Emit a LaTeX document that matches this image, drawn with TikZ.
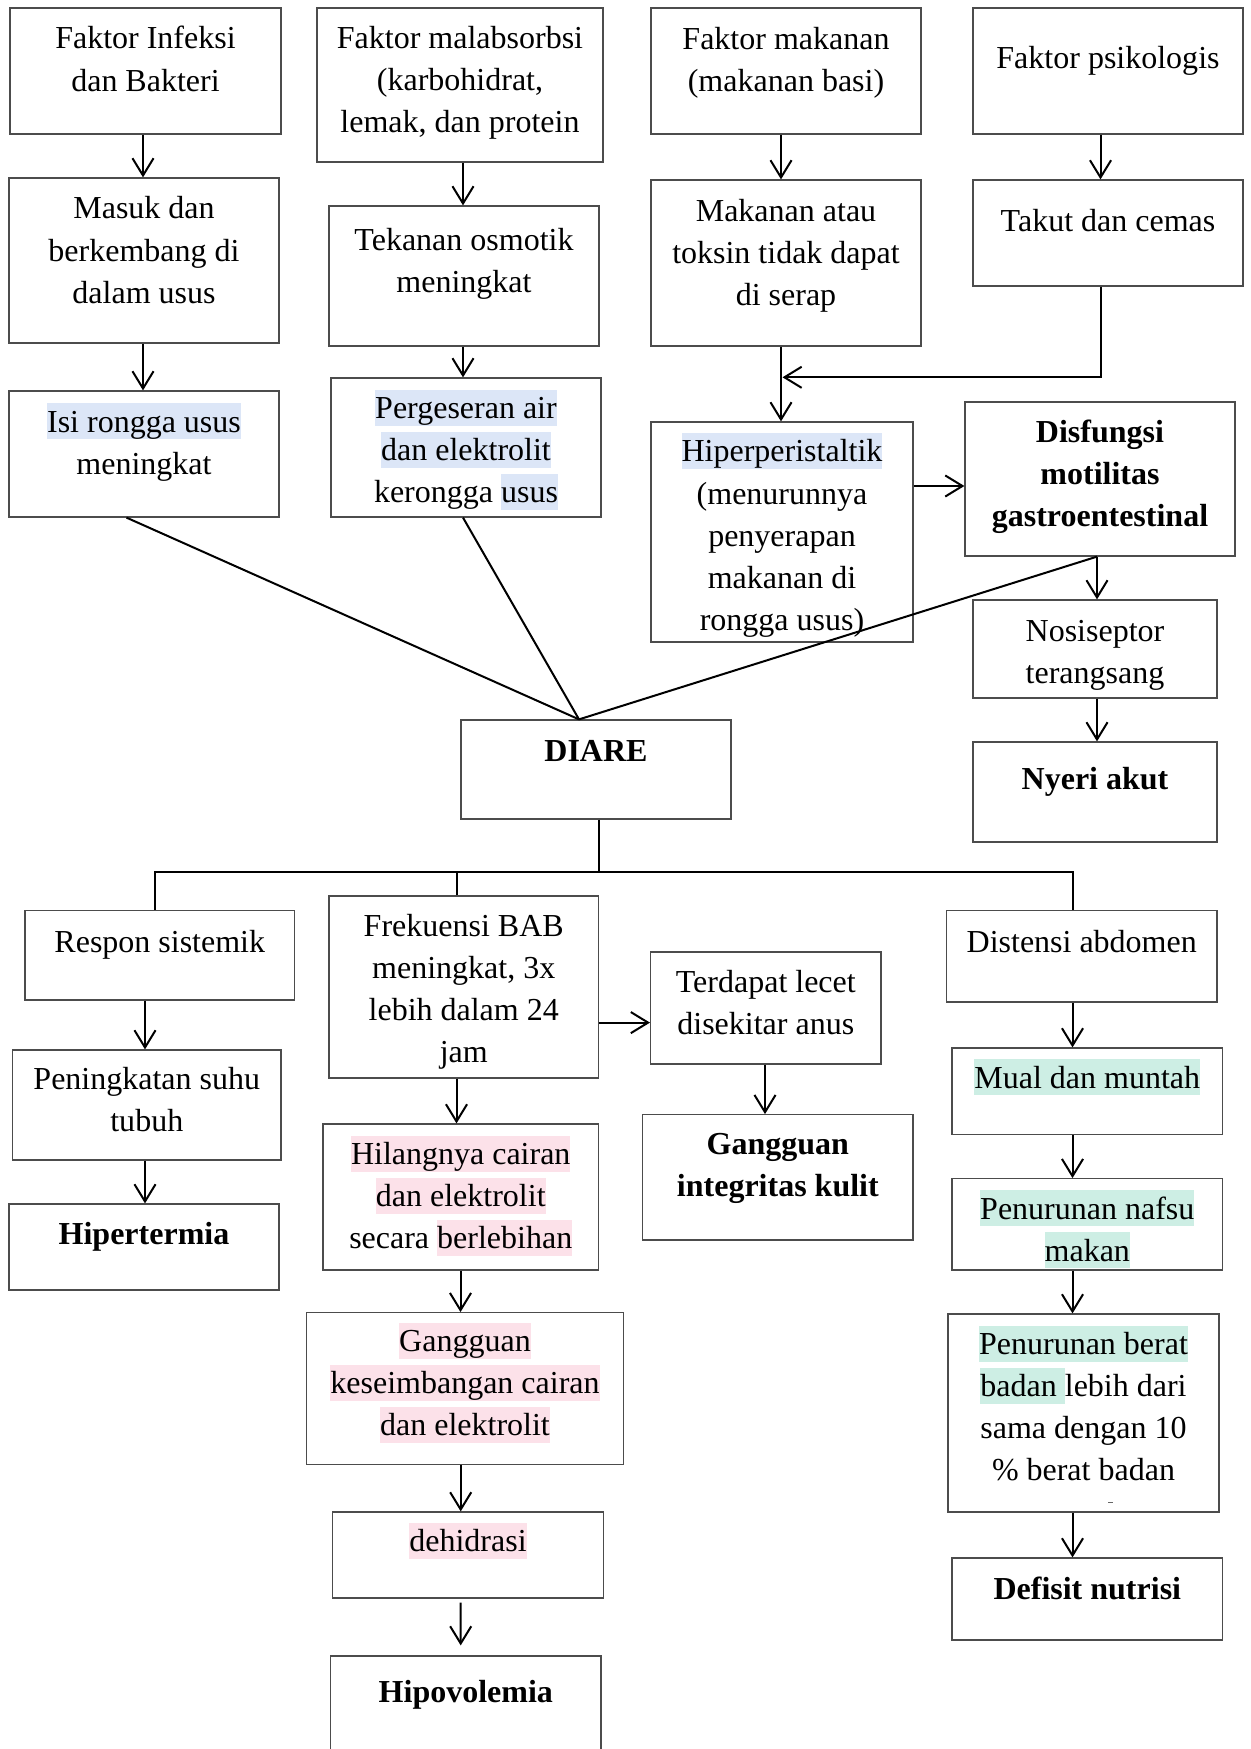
\documentclass[tikz,border=0pt]{standalone}
\usepackage{fontspec}
\setmainfont{Liberation Serif}
\usetikzlibrary{arrows.meta}

\definecolor{hlblue}{HTML}{DCE6F7}
\definecolor{hlpink}{HTML}{FCE1E9}
\definecolor{hlgreen}{HTML}{CDEEE4}

\newlength{\px}
\setlength{\px}{0.01cm}
% box of fixed size, text set from the top: width, height, first baseline, text
\newcommand{\boxtext}[4]{\parbox[c][#2\px][t]{#1\px}{\centering
  \vspace*{\dimexpr #3\px+1.5\px-\ht\strutbox\relax}\strut#4}}
\newcommand{\hlt}[2]{\leavevmode\setbox0\hbox{#2}\rlap{\color{#1}\rule[-7\px]{\wd0}{36\px}}\box0}

\begin{document}
\begin{tikzpicture}[x=0.01cm, y=-0.01cm,
  box/.style={draw=black!70, line width=0.35pt, inner sep=0pt,
    font=\fontsize{9.1}{11.95}\selectfont},
  arr/.style={line width=0.57pt, -{Straight Barb[length=4.9pt, width=6pt]}},
  link/.style={line width=0.57pt}]
  \useasboundingbox (0,0) rectangle (1250,1749);
  \clip (0,0) rectangle (1250,1749);

  % causes
  \node[box] (infeksi) at (145.5,71) {\boxtext{271}{126}{39.5}{Faktor Infeksi\\dan Bakteri}};
  \node[box] (masuk) at (144,260.5) {\boxtext{270}{165}{39.5}{Masuk dan\\berkembang di\\dalam usus}};
  \node[box] (isi) at (144,454) {\boxtext{270}{126}{39.7}{\hlt{hlblue}{Isi rongga usus}\\meningkat}};
  \node[box] (malab) at (460,85) {\boxtext{286}{154}{39}{Faktor malabsorbsi\\(karbohidrat,\\lemak, dan protein}};
  \node[box] (osmotik) at (464,276) {\boxtext{270}{140}{43}{Tekanan osmotik\\meningkat}};
  \node[box] (geser) at (466,447.5) {\boxtext{270}{139}{39}{\hlt{hlblue}{Pergeseran air}\\\hlt{hlblue}{dan elektrolit}\\kerongga \hlt{hlblue}{usus}}};
  \node[box] (makanan) at (786,71) {\boxtext{270}{126}{39.8}{Faktor makanan\\(makanan basi)}};
  \node[box] (psikologis) at (1108,71) {\boxtext{270}{126}{59}{Faktor psikologis}};
  \node[box] (toksin) at (786,263) {\boxtext{270}{166}{39.6}{Makanan atau\\toksin tidak dapat\\di serap}};
  \node[box] (takut) at (1108,233) {\boxtext{270}{106}{50}{Takut dan cemas}};
  \node[box] (hiper) at (782,532) {\boxtext{262}{220}{38.5}{\hlt{hlblue}{Hiperperistaltik}\\(menurunnya\\penyerapan\\makanan di\\rongga usus)}};
  \node[box] (disfungsi) at (1100,479) {\boxtext{270}{154}{39}{\bfseries Disfungsi\\motilitas\\gastroentestinal}};
  \node[box] (nosiseptor) at (1095,649) {\boxtext{244}{98}{40}{Nosiseptor\\terangsang}};
  \node[box] (nyeri) at (1095,792) {\boxtext{244}{100}{46}{\bfseries Nyeri akut}};
  \node[box] (diare) at (596,769.5) {\boxtext{270}{99}{40}{\bfseries DIARE}};

  % effects
  \node[box] (respon) at (159.8,955.25) {\boxtext{269.6}{89.5}{40}{Respon sistemik}};
  \node[box] (suhu) at (146.8,1105) {\boxtext{268.4}{110}{38.4}{Peningkatan suhu\\tubuh}};
  \node[box] (hipertermia) at (144,1247) {\boxtext{270}{86}{38.7}{\bfseries Hipertermia}};
  \node[box] (frekuensi) at (463.75,987) {\boxtext{269.5}{182}{38.6}{Frekuensi BAB\\meningkat, 3x\\lebih dalam 24\\jam}};
  \node[box] (hilang) at (460.75,1197) {\boxtext{275.5}{146}{39}{\hlt{hlpink}{Hilangnya cairan}\\\hlt{hlpink}{dan elektrolit}\\secara \hlt{hlpink}{berlebihan}}};
  \node[box] (seimbang) at (465,1388.5) {\boxtext{316.6}{151.6}{37.6}{\hlt{hlpink}{Gangguan}\\\hlt{hlpink}{keseimbangan cairan}\\\hlt{hlpink}{dan elektrolit}}};
  \node[box] (dehidrasi) at (468,1555) {\boxtext{270.6}{86}{38}{\hlt{hlpink}{dehidrasi}}};
  \node[box] (hipovolemia) at (465.85,1711) {\boxtext{270.3}{110}{45}{\bfseries Hipovolemia}};
  \node[box] (lecet) at (765.8,1008) {\boxtext{230.4}{112}{39}{Terdapat lecet\\disekitar anus}};
  \node[box] (integritas) at (777.85,1177.35) {\boxtext{270.3}{125.3}{38.6}{\bfseries Gangguan\\integritas kulit}};
  \node[box] (distensi) at (1081.75,956.35) {\boxtext{270.5}{91.3}{40}{Distensi abdomen}};
  \node[box] (mual) at (1087.3,1091.3) {\boxtext{270.6}{86.6}{38.6}{\hlt{hlgreen}{Mual dan muntah}}};
  \node[box] (nafsu) at (1087.3,1224.35) {\boxtext{270.6}{91.3}{38.8}{\hlt{hlgreen}{Penurunan nafsu}\\\hlt{hlgreen}{makan}}};
  \node[box] (berat) at (1083.5,1413) {\boxtext{271}{198}{39}{\hlt{hlgreen}{Penurunan berat}\\\hlt{hlgreen}{badan }lebih dari\\sama dengan 10\\\% berat badan}};
  \node[box] (nutrisi) at (1087.3,1599) {\boxtext{270.6}{82}{40}{\bfseries Defisit nutrisi}};
  \draw[black!60, line width=0.3pt] (1108,1502.5) -- (1113,1502.5);

  % upper arrows
  \draw[arr] ([xshift=-2.5\px]infeksi.south) -- ([xshift=-1\px]masuk.north);
  \draw[arr] ([xshift=-1\px]masuk.south) -- ([xshift=-1\px]isi.north);
  \draw[arr] ([xshift=3\px]malab.south) -- ([xshift=-1\px]osmotik.north);
  \draw[arr] ([xshift=-1\px]osmotik.south) -- ([xshift=-3\px]geser.north);
  \draw[arr] ([xshift=-5\px]makanan.south) -- ([xshift=-5\px]toksin.north);
  \draw[arr] ([xshift=-7.5\px]psikologis.south) -- ([xshift=-7.5\px]takut.north);
  \coordinate (merge) at (782.5,377.3);
  \draw[arr] ([xshift=-7.5\px]takut.south) |- (merge);
  \draw[arr] ([xshift=-5\px]toksin.south) -- ([xshift=-1\px]hiper.north);
  \draw[arr] ([yshift=46\px]hiper.east) -- ([yshift=-7\px]disfungsi.west);
  \draw[arr] ([xshift=-3\px]disfungsi.south) -- ([xshift=2\px]nosiseptor.north);
  \draw[arr] ([xshift=2\px]nosiseptor.south) -- ([xshift=2\px]nyeri.north);

  % into DIARE
  \draw[link] ([xshift=-17.5\px]isi.south) -- ([xshift=-17\px]diare.north);
  \draw[link] ([xshift=-3\px]geser.south) -- ([xshift=-17\px]diare.north);
  \draw[link] ([xshift=-3\px]disfungsi.south) -- ([xshift=-17\px]diare.north);

  % out of DIARE
  \coordinate (bus) at (599,872);
  \draw[link] ([xshift=3\px]diare.south) -- (bus);
  \draw[link] ([xshift=-4.8\px]respon.north) |- (bus) -| ([xshift=-9.25\px]distensi.north);
  \draw[link] ([xshift=-7.25\px]frekuensi.north) |- (bus);

  % lower arrows
  \draw[arr] ([xshift=-14.8\px]respon.south) -- ([xshift=-1.8\px]suhu.north);
  \draw[arr] ([xshift=-1.8\px]suhu.south) -- ([xshift=1\px]hipertermia.north);
  \draw[arr] ([xshift=-7.25\px]frekuensi.south) -- ([xshift=-4.25\px]hilang.north);
  \draw[arr] ([xshift=-0.25\px]hilang.south) -- ([xshift=-4.5\px]seimbang.north);
  \draw[arr] ([xshift=-4.3\px]seimbang.south) -- ([xshift=-7.3\px]dehidrasi.north);
  \draw[arr] ([xshift=-7.3\px,yshift=-4\px]dehidrasi.south) -- ([xshift=-5.15\px,yshift=10\px]hipovolemia.north);
  \draw[arr] ([yshift=-35.6\px]frekuensi.east) -- ([yshift=-14.6\px]lecet.west);
  \draw[arr] ([xshift=-0.8\px]lecet.south) -- ([xshift=-12.85\px]integritas.north);
  \draw[arr] ([xshift=-9.25\px]distensi.south) -- ([xshift=-14.8\px]mual.north);
  \draw[arr] ([xshift=-14.8\px]mual.south) -- ([xshift=-14.8\px]nafsu.north);
  \draw[arr] ([xshift=-14.8\px]nafsu.south) -- ([xshift=-11\px]berat.north);
  \draw[arr] ([xshift=-11\px]berat.south) -- ([xshift=-14.8\px]nutrisi.north);
\end{tikzpicture}
\end{document}
